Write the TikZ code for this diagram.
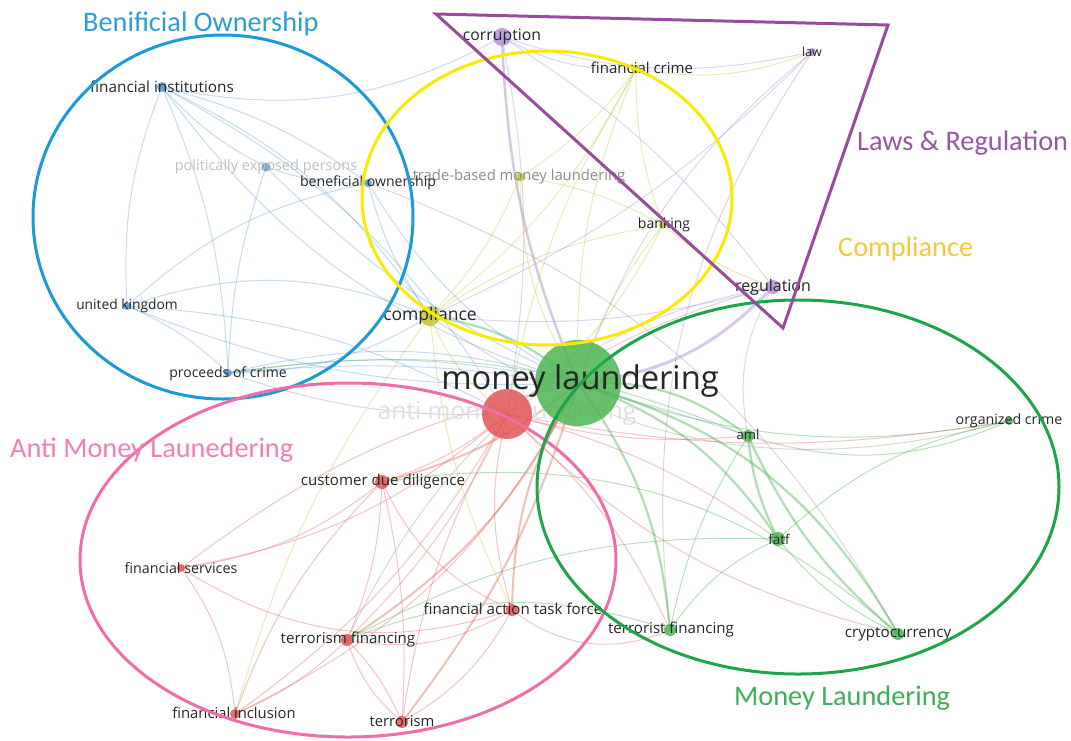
\documentclass[tikz,border=0pt]{standalone}
\usepackage{fontspec}
\setmainfont{Open Sans}
\newfontfamily\titlefont{Carlito}
\usetikzlibrary{backgrounds}

% cluster colours
\definecolor{cBlue}{RGB}{27,154,215}
\definecolor{cYellow}{RGB}{249,234,0}
\definecolor{cPurple}{RGB}{154,76,156}
\definecolor{cPink}{RGB}{240,109,170}
\definecolor{cGreen}{RGB}{30,164,75}
\definecolor{tBlue}{RGB}{42,159,214}
\definecolor{tPurple}{RGB}{150,88,160}
\definecolor{tGold}{RGB}{247,200,60}
\definecolor{tPink}{RGB}{242,126,181}
\definecolor{tGreen}{RGB}{63,174,90}
% item colours
\definecolor{nBlue}{RGB}{91,155,213}
\definecolor{nYellow}{RGB}{196,196,55}
\definecolor{nPurple}{RGB}{180,146,216}
\definecolor{nRed}{RGB}{226,85,85}
\definecolor{nGreen}{RGB}{77,182,83}

\newcommand\lblsize[1]{\fontsize{#1}{#1}\selectfont}

\tikzset{
  nd/.style 2 args={circle, fill=#1, fill opacity=0.85, inner sep=0pt, minimum size=#2},
  lbl/.style={inner sep=0pt, text=black!85, font=\lblsize{14.5}},
  faded/.style={text=black!25},
  cluster/.style={line width=3pt, draw=#1},
  ctitle/.style={text=#1, inner sep=0pt, font=\titlefont\lblsize{28.3}},
  eb/.style={draw=nBlue, opacity=0.35, line width=1pt},
  ey/.style={draw=nYellow, opacity=0.35, line width=1pt},
  ep/.style={draw=nPurple, opacity=0.4, line width=1pt},
  er/.style={draw=nRed, opacity=0.35, line width=1pt},
  eg/.style={draw=nGreen, opacity=0.4, line width=1pt},
  eGy/.style={draw=gray, opacity=0.3, line width=1pt},
  eG/.style={draw=nGreen, opacity=0.45, line width=2.2pt},
  eR/.style={draw=nRed!70!brown, opacity=0.4, line width=2pt},
  eP/.style={draw=nPurple!60!gray, opacity=0.45, line width=2.5pt},
  eL/.style={draw=nPurple, opacity=0.5, line width=3pt},
}

\begin{document}
\begin{tikzpicture}[x=1pt,y=-1pt]
\useasboundingbox (0,0) rectangle (1071,740);

% ---- items ----
\node[nd={nGreen}{86pt}] (ml) at (578,383) {};
\node[nd={nRed}{50pt}] (am) at (507,414) {};
\node[nd={nYellow}{20pt}] (comp) at (430,316) {};
\node[nd={nPurple}{18pt}] (corr) at (502,37) {};
\node[nd={nPurple}{14pt}] (reg) at (773,287) {};
\node[nd={nPurple}{8pt}] (law) at (812,52) {};
\node[nd={nYellow}{9pt}] (fcrime) at (636,69) {};
\node[nd={nYellow}{9pt}] (tbml) at (520,177) {};
\node[nd={nYellow}{8pt}] (bank) at (663,225) {};
\node[nd={nBlue}{10pt}] (fi) at (162,87) {};
\node[nd={nBlue}{9pt}] (pep) at (266,167) {};
\node[nd={nBlue}{8pt}] (bo) at (368,183) {};
\node[nd={nBlue}{8pt}] (uk) at (127,306) {};
\node[nd={nBlue}{8pt}] (poc) at (228,373) {};
\node[nd={nRed}{14pt}] (cdd) at (382,482) {};
\node[nd={nRed}{8pt}] (fserv) at (181,568) {};
\node[nd={nRed}{12pt}] (fatfo) at (512,610) {};
\node[nd={nRed}{12pt}] (terfin) at (347,640) {};
\node[nd={nRed}{10pt}] (finc) at (235,714) {};
\node[nd={nRed}{12pt}] (terr) at (402,722) {};
\node[nd={nGreen}{12pt}] (aml) at (748,436) {};
\node[nd={nGreen}{8pt}] (orgc) at (1009,421) {};
\node[nd={nGreen}{14pt}] (fatf) at (778,539) {};
\node[nd={nGreen}{12pt}] (tfin) at (670,630) {};
\node[nd={nGreen}{12pt}] (crypto) at (898,634) {};

% ---- links ----
\begin{scope}[on background layer]
\fill[white] (0,0) rectangle (1071,740);
\foreach \a/\b/\s/\k in {
  ml/aml/eG/20, ml/fatf/eG/18, ml/crypto/eG/22, ml/orgc/eg/-15, ml/tfin/eG/15,
  ml/corr/eP/10, ml/reg/eL/-20, ml/law/ep/15, ml/fcrime/ey/12, ml/bank/ey/10,
  ml/comp/eG/-15, ml/tbml/ey/15, ml/bo/eb/15, ml/fi/eb/18, ml/uk/eb/12,
  ml/poc/eb/-10, ml/pep/eb/10, ml/cdd/eR/12, ml/fserv/er/-12, ml/fatfo/eR/-15,
  ml/terfin/eR/15, ml/finc/er/18, ml/terr/eR/10,
  am/cdd/er/10, am/fserv/er/15, am/fatfo/er/-15, am/terfin/er/10, am/finc/er/12,
  am/terr/er/-10, am/comp/ey/15, am/aml/er/-10, am/fatf/er/10, am/orgc/er/-10,
  am/tfin/er/12, am/crypto/er/-15, am/bank/ey/-12, am/fcrime/ey/10, am/uk/eb/-12,
  am/poc/eb/10, am/fi/eb/-15, am/corr/ep/-10, am/reg/ep/15,
  cdd/fserv/er/15, cdd/finc/er/-12, cdd/terfin/er/10, cdd/fatfo/er/-20, cdd/terr/er/8,
  fserv/finc/er/15, fserv/fatfo/er/-25, terfin/terr/er/10, terfin/fatfo/er/-20,
  terfin/finc/er/10, fatfo/terr/er/15, fatfo/tfin/er/-30, terr/terfin/er/15,
  aml/fatf/eG/-10, aml/crypto/eG/-12, aml/orgc/eg/-20, aml/tfin/eg/-10,
  fatf/crypto/eg/-12, fatf/tfin/eg/-15, fatf/terfin/eg/-15, fatf/orgc/eg/15,
  aml/poc/eg/-15, crypto/cdd/eg/-25, tfin/terfin/eg/-20,
  fi/pep/eb/-10, fi/bo/eb/10, fi/poc/eb/10, fi/uk/eb/-12, fi/corr/eb/-20,
  fi/comp/eb/15, pep/bo/eb/-10, pep/poc/eb/-8, uk/poc/eb/10, uk/comp/eb/20,
  poc/comp/eb/-15, bo/comp/eb/-10, uk/bo/eb/15, poc/ml/eb/15, poc/aml/eb/12,
  comp/fcrime/ey/-12, comp/bank/ey/12, comp/tbml/ey/-10, fcrime/tbml/ey/10,
  fcrime/bank/ey/-10, fcrime/corr/ep/15, fcrime/law/ey/-15, tbml/bank/ey/10,
  bank/reg/ey/-10, comp/fatfo/ey/-10, comp/finc/ey/-10,
  corr/law/ep/-15, corr/reg/ep/10, law/comp/ep/10, reg/comp/ep/10, reg/aml/ep/-20,
  reg/terfin/eGy/-25, law/tfin/eGy/-20, orgc/comp/eGy/25, crypto/bo/eGy/-20
}{
  \draw[\s] (\a.center) to[bend left=\k] (\b.center);
}
% faint label of the hub item, lying under the item circles
\node[lbl, text=black!12, font=\lblsize{24.6}] (am-l) at (507,413) {anti money laundering};
\end{scope}

% ---- labels ----
\node[lbl, font=\lblsize{32.7}] (ml-l) at (580,381) {money laundering};
\node[lbl, font=\lblsize{17.5}] (comp-l) at (comp) {compliance};
\node[lbl, font=\lblsize{15.8}] (corr-l) at (corr) {corruption};
\node[lbl, font=\lblsize{16}] (reg-l) at (reg) {regulation};
\node[lbl, font=\lblsize{12.5}] (law-l) at (law) {law};
\node[lbl, font=\lblsize{15}] (fcrime-l) at (642,68) {financial crime};
\node[lbl, text=black!45, font=\lblsize{14.8}] (tbml-l) at (519,177) {trade-based money laundering};
\node[lbl, font=\lblsize{14}] (bank-l) at (664,225) {banking};
\node[lbl, font=\lblsize{15.3}] (fi-l) at (fi) {financial institutions};
\node[lbl, faded, font=\lblsize{14.5}] (pep-l) at (266,167) {politically exposed persons};
\node[lbl, font=\lblsize{14.1}] (bo-l) at (368,183) {beneficial ownership};
\node[lbl, font=\lblsize{13.8}] (uk-l) at (uk) {united kingdom};
\node[lbl, font=\lblsize{14}] (poc-l) at (228,374) {proceeds of crime};
\node[lbl, font=\lblsize{15.1}] (cdd-l) at (383,482) {customer due diligence};
\node[lbl, font=\lblsize{14.3}] (fserv-l) at (181,568) {financial services};
\node[lbl, font=\lblsize{15.1}] (fatfo-l) at (513,609) {financial action task force};
\node[lbl, font=\lblsize{15.1}] (terfin-l) at (348,640) {terrorism financing};
\node[lbl, font=\lblsize{14.8}] (finc-l) at (234,713) {financial inclusion};
\node[lbl, font=\lblsize{14.8}] (terr-l) at (402,721) {terrorism};
\node[lbl, font=\lblsize{13.2}] (aml-l) at (748,435) {aml};
\node[lbl, font=\lblsize{14.2}] (orgc-l) at (1009,421) {organized crime};
\node[lbl, font=\lblsize{13.5}] (fatf-l) at (779,539) {fatf};
\node[lbl, font=\lblsize{15.1}] (tfin-l) at (671,630) {terrorist financing};
\node[lbl, font=\lblsize{15.2}] (crypto-l) at (898,634) {cryptocurrency};

% ---- cluster outlines ----
\draw[cluster=cBlue] (223,217) ellipse [x radius=190, y radius=182];
\draw[cluster=cYellow] (547,198) ellipse [x radius=185, y radius=147];
\draw[cluster=cPink] (348,560) ellipse [x radius=268, y radius=177];
\draw[cluster=cGreen] (798,487) ellipse [x radius=261, y radius=187];
\draw[cluster=cPurple, line join=miter] (436,14) -- (888,25) -- (783,328) -- cycle;

% ---- cluster titles ----
\node[ctitle=tBlue, anchor=west] (t-bo) at (83,24) {Benificial Ownership};
\node[ctitle=tPurple, anchor=west] (t-law) at (857,143) {Laws \& Regulation};
\node[ctitle=tGold, anchor=west] (t-comp) at (838,249) {Compliance};
\node[ctitle=tPink, anchor=west] (t-aml) at (10,450) {Anti Money Launedering};
\node[ctitle=tGreen, anchor=west] (t-ml) at (734,698) {Money Laundering};
\end{tikzpicture}
\end{document}
